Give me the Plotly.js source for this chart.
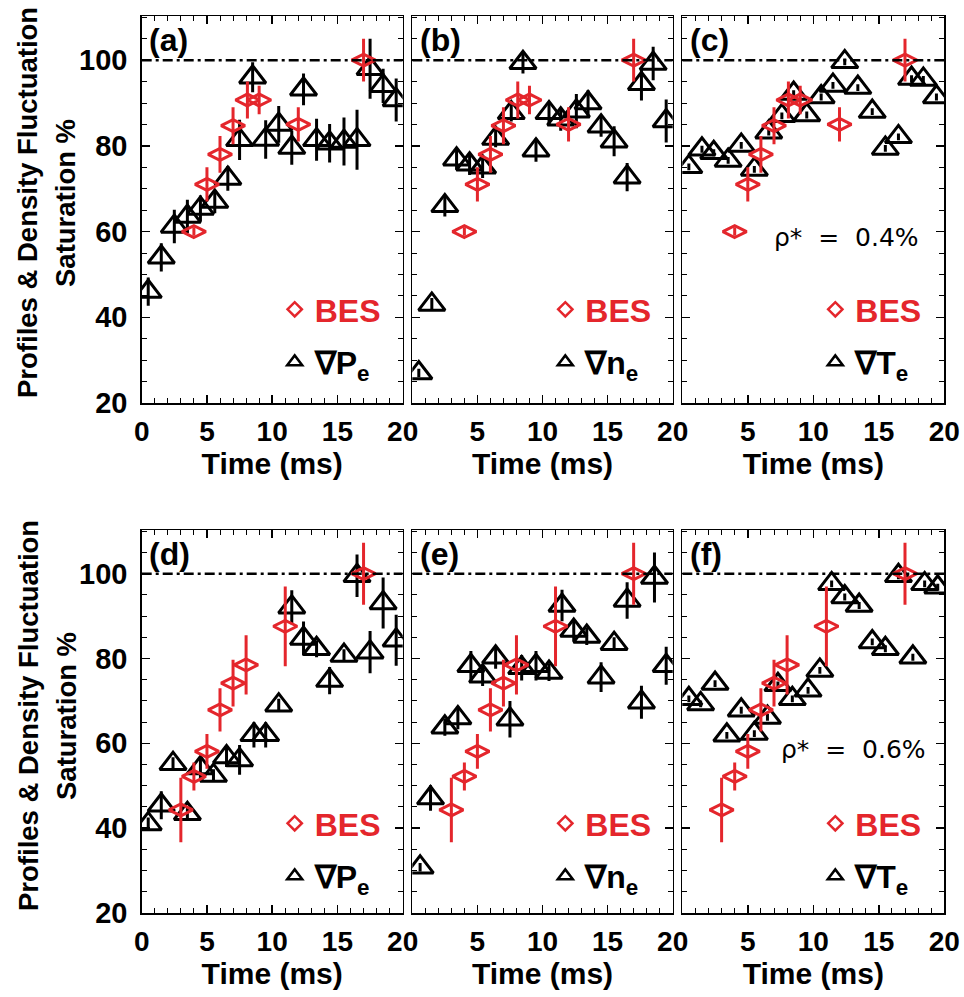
<!DOCTYPE html>
<html><head><meta charset="utf-8">
<script src="https://cdn.plot.ly/plotly-3.0.1.min.js"></script>
<style>html,body{margin:0;padding:0;background:#fff}</style>
</head><body><div id="chart" style="width:964px;height:997px"></div>
<script>
// ---------- DATA ----------
// BES density fluctuation saturation, rho* = 0.4% (panels a-c)
const besTopT   = [4, 5, 6, 7, 8.1, 9, 12, 17];
const besTopY   = [60, 71, 78, 84.7, 90.7, 90.7, 85, 100];
const besTopErr = [1, 4, 4.3, 4.3, 4.3, 3.3, 4, 5];
// BES density fluctuation saturation, rho* = 0.6% (panels d-f)
const besBotT   = [3, 4, 5, 6, 7, 8, 11, 17];
const besBotY   = [44.3, 52.2, 58.1, 67.9, 74.2, 78.5, 87.6, 100];
const besBotErr = [7.6, 3.3, 4.1, 5.1, 5.5, 7, 9.4, 7.3];

// (a) grad Pe, rho* = 0.4%
const aT   = [0.5,1.5,2.5,3.5,4.5,5.6,6.6,7.5,8.5,9.5,10.5,11.5,12.4,13.4,14.4,15.5,16.5,17.5,18.5,19.5];
const aY   = [46,54,61.2,63.5,65.4,67,72.4,81.4,96,81.5,85,79.6,93.2,81.4,80.6,81,81.4,98,94,90.7];
const aErr = [3.3,3.3,3.9,3.9,3,2.7,2.9,4.7,3.5,4.5,4.3,4,3.7,4.9,4.5,5.6,7,7,4,5];
// (b) grad ne, rho* = 0.4%
const bT   = [0.5,1.5,2.5,3.4,4.4,5.4,6.4,7.6,8.5,9.5,10.5,11.4,12.6,13.5,14.5,15.5,16.5,17.6,18.5,19.5];
const bY   = [27,43,66,76.9,75.7,75,81.7,87.7,99.4,79,87.7,86.2,88.1,90,84.6,81.1,72.7,94.5,99.2,85.8];
const bErr = [1,1.5,2.5,2.5,2.5,2.5,2,2,2.5,2.7,2.5,2.7,4,3,2.5,3.5,3.3,3.9,3.9,5];
// (c) grad Te, rho* = 0.4%
const cT   = [0.5,1.5,2.4,3.5,4.5,5.5,6.6,7.6,8.5,9.5,10.6,11.5,12.4,13.4,14.5,15.5,16.5,17.5,18.4,19.4];
const cY   = [75.1,79.2,78.4,76.6,80.1,74.5,83.2,87,92.2,87.2,91.4,94.1,99.6,93.6,88,79.4,82.1,95.7,95.5,91.4];
const cErr = [0.8,0.8,0.8,0.8,0.8,0.8,0.8,0.8,0.8,0.8,0.8,0.8,0.8,0.8,0.8,0.8,0.8,0.8,0.8,0.8];
// (d) grad Pe, rho* = 0.6%
const dT   = [0.5,1.5,2.4,3.5,4.5,5.5,6.5,7.5,8.6,9.5,10.5,11.5,12.4,13.4,14.4,15.5,16.5,17.5,18.5,19.5];
const dY   = [41,45.4,55.2,43.4,54.2,52.4,56.8,56.1,62,62,69,92.1,84.7,82.3,74.8,80.7,99.5,81.5,93.1,84.3];
const dErr = [1.5,3.3,1.5,1.5,2.5,1.5,2.4,3.5,3,3,1.5,4,4,2,3.2,1.5,5,5,6,6];
// (e) grad ne, rho* = 0.6%
const eT   = [0.6,1.4,2.5,3.5,4.5,5.4,6.4,7.5,8.4,9.5,10.5,11.5,12.4,13.4,14.5,15.5,16.5,17.6,18.6,19.5];
const eY   = [30.8,47.1,63.8,66,78.3,75.8,80.3,65.7,77.8,78.3,76.7,92.5,86.6,85.2,75.6,83.5,93.7,69.7,99.1,78.3];
const eErr = [1,3,2,2.7,3.5,2.3,2.7,4.3,3,3.5,2,3.7,2.5,2,3.5,1.5,4.3,3.9,5.9,4.5];
// (f) grad Te, rho* = 0.6%
const fT   = [0.5,1.4,2.5,3.4,4.5,5.5,6.5,7.3,8.4,9.6,10.5,11.4,12.4,13.5,14.5,15.5,16.5,17.6,18.5,19.5];
const fY   = [70.5,69.3,74.1,61.9,67.8,62.3,66.1,73.8,70.5,72.5,77.2,97.6,94.5,92.5,83.9,82.3,99.5,80.3,97.6,96.8];
const fErr = [0.8,0.8,0.8,0.8,0.8,0.8,0.8,0.8,0.8,0.8,0.8,0.8,0.8,0.8,0.8,0.8,0.8,0.8,0.8,0.8];

const panelLabels = ['(a)','(b)','(c)','(d)','(e)','(f)'];
const profileNames = ['∇P<sub>e</sub>','∇n<sub>e</sub>','∇T<sub>e</sub>','∇P<sub>e</sub>','∇n<sub>e</sub>','∇T<sub>e</sub>'];
const rhoLabels = ['ρ*\u00a0\u00a0=\u00a0\u00a00.4%', 'ρ*\u00a0\u00a0=\u00a0\u00a00.6%'];
const rhoPos = [[12.5, 58.7], [13.1, 58.5]];
const xTickVals = [0, 5, 10, 15, 20];
const yTickVals = [20, 40, 60, 80, 100];
const saturationLevel = 100;
const xTitle = 'Time (ms)';
const yTitle1 = 'Profiles & Density Fluctuation';
const yTitle2 = 'Saturation %';

// ---------- STYLE ----------
const W = 964, H = 997;
const RED = '#e4262c';
const FB = '"Liberation Sans", Arial, sans-serif';
const colLeft = [141.7, 412.3, 682.3], colRight = [402.7, 672.7, 944.3];
const rowTop = [16, 530], rowBot = [403, 913];

const profT = [aT,bT,cT,dT,eT,fT], profY = [aY,bY,cY,dY,eY,fY], profE = [aErr,bErr,cErr,dErr,eErr,fErr];

const traces = [];
const layout = {
  width: W, height: H, margin: {l:0, r:0, t:0, b:0},
  paper_bgcolor: '#fff', plot_bgcolor: '#fff', showlegend: true,
  shapes: [], annotations: []
};

for (let i = 0; i < 6; i++) {
  const r = Math.floor(i / 3), c = i % 3, s = i === 0 ? '' : String(i + 1);
  const xa = 'x' + s, ya = 'y' + s;
  const bT_ = r === 0 ? besTopT : besBotT, bY_ = r === 0 ? besTopY : besBotY, bE_ = r === 0 ? besTopErr : besBotErr;
  // profile gradient saturation (triangles)
  traces.push({
    x: profT[i], y: profY[i], xaxis: xa, yaxis: ya, type: 'scatter', mode: 'markers', showlegend: false,
    marker: {symbol: 'triangle-up-open', size: 23, color: '#000', line: {width: 3, color: '#000'}},
    error_y: {type: 'data', array: profE[i], visible: true, color: '#000', thickness: 3, width: 0}
  });
  // BES (diamonds)
  traces.push({
    x: bT_, y: bY_, xaxis: xa, yaxis: ya, type: 'scatter', mode: 'markers', showlegend: false,
    marker: {symbol: 'diamond-wide-open', size: 17, color: RED, line: {width: 3, color: RED}},
    error_y: {type: 'data', array: bE_, visible: true, color: RED, thickness: 3, width: 0}
  });
  // legend entries
  const lg = i === 0 ? 'legend' : 'legend' + (i + 1);
  traces.push({
    x: [null], y: [null], xaxis: xa, yaxis: ya, type: 'scatter', mode: 'markers',
    name: '<b><span style="color:' + RED + '">BES</span></b>', legend: lg, legendgroup: 'g1_' + i,
    marker: {symbol: 'diamond-open', size: 11, color: RED, line: {width: 2.5, color: RED}}
  });
  traces.push({
    x: [null], y: [null], xaxis: xa, yaxis: ya, type: 'scatter', mode: 'markers',
    name: '<b>' + profileNames[i] + '</b>', legend: lg, legendgroup: 'g2_' + i,
    marker: {symbol: 'triangle-up-open', size: 13, color: '#000', line: {width: 2.5, color: '#000'}}
  });
  layout[lg] = {
    x: (colLeft[c] + 133) / W, y: 1 - (rowTop[r] + 266) / H, xanchor: 'left', yanchor: 'top',
    bgcolor: 'rgba(0,0,0,0)', borderwidth: 0, traceorder: 'grouped', tracegroupgap: 8,
    font: {family: FB, size: 32, color: '#000'}
  };

  const xtv = c === 0 ? xTickVals : xTickVals.slice(1);
  layout['xaxis' + s] = {
    domain: [colLeft[c] / W, colRight[c] / W], anchor: ya, range: [0, 20],
    showline: true, mirror: 'allticks', linecolor: '#000', linewidth: 1.5,
    ticks: 'inside', ticklen: 8, tickwidth: 1.5, tickcolor: '#000',
    tickmode: 'array', tickvals: xtv, ticktext: xtv.map(String),
    minor: {tickmode: 'linear', tick0: 0, dtick: 1, ticks: 'inside', ticklen: 5, tickwidth: 1, tickcolor: '#000'},
    showgrid: false, zeroline: false, ticklabelstandoff: 3,
    tickfont: {family: FB, size: 28, color: '#000', weight: 'bold'},
    title: {text: xTitle, font: {family: FB, size: 30, color: '#000', weight: 'bold'}, standoff: 2}
  };
  layout['yaxis' + s] = {
    domain: [1 - rowBot[r] / H, 1 - rowTop[r] / H], anchor: xa, range: [20, 110.3],
    showline: true, mirror: 'allticks', linecolor: '#000', linewidth: 1.5,
    ticks: 'inside', ticklen: 8, tickwidth: 1.5, tickcolor: '#000',
    tickmode: 'array', tickvals: yTickVals, showticklabels: c === 0,
    minor: {tickmode: 'linear', tick0: 0, dtick: 5, ticks: 'inside', ticklen: 5, tickwidth: 1, tickcolor: '#000'},
    showgrid: false, zeroline: false, ticklabelstandoff: 7,
    tickfont: {family: FB, size: 29, color: '#000', weight: 'bold'}
  };
  layout.shapes.push({type: 'line', xref: xa, yref: ya, x0: 0, x1: 20, y0: saturationLevel, y1: saturationLevel,
    line: {color: '#000', width: 2.5, dash: '10px,4px,3px,4px'}});
  layout.annotations.push({xref: xa + ' domain', yref: ya + ' domain', x: 0.02, y: 0.99, xanchor: 'left', yanchor: 'top',
    text: '<b>' + panelLabels[i] + '</b>', showarrow: false, font: {family: FB, size: 32, color: '#000'}});
  if (c === 2) {
    layout.annotations.push({xref: xa, yref: ya, x: rhoPos[r][0], y: rhoPos[r][1], xanchor: 'center', yanchor: 'middle',
      text: rhoLabels[r], showarrow: false, font: {family: '"DejaVu Sans", sans-serif', size: 25, color: '#000'}});
  }
}
// shared y titles per row
const rowMid = [203, 716];
for (let r = 0; r < 2; r++) {
  layout.annotations.push({xref: 'paper', yref: 'paper', x: 28 / W, y: 1 - rowMid[r] / H, xanchor: 'center', yanchor: 'middle',
    textangle: -90, text: '<b>' + yTitle1 + '</b>', showarrow: false, font: {family: FB, size: 27.5, color: '#000'}});
  layout.annotations.push({xref: 'paper', yref: 'paper', x: 66 / W, y: 1 - rowMid[r] / H, xanchor: 'center', yanchor: 'middle',
    textangle: -90, text: '<b>' + yTitle2 + '</b>', showarrow: false, font: {family: FB, size: 27.5, color: '#000'}});
}

Plotly.newPlot('chart', traces, layout, {staticPlot: true, displayModeBar: false});
</script></body></html>
